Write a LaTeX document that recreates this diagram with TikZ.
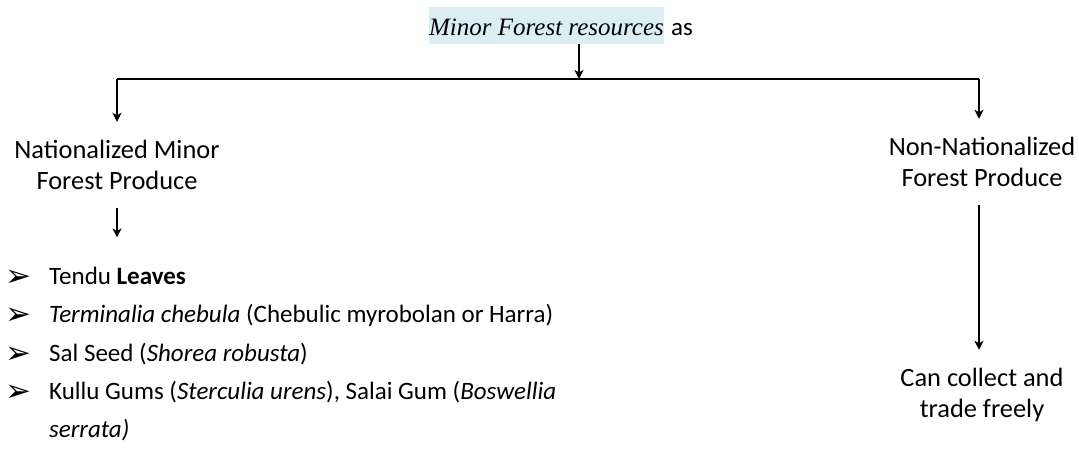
\documentclass[tikz,border=0pt]{standalone}
\usepackage{fontspec}
\setmainfont{Carlito}
\newfontfamily\titlefont{Liberation Serif}
\newfontfamily\symfont{DejaVu Sans}
\usetikzlibrary{arrows.meta}
\definecolor{hlblue}{RGB}{218,238,243}
\tikzset{
  lbl/.style={font=\fontsize{26.4}{31.5}\selectfont, align=center, inner xsep=0pt, inner ysep=18pt},
  item/.style={font=\fontsize{25}{38}\selectfont, align=left, inner sep=0pt, anchor=base west},
  bullet/.style={font=\symfont\fontsize{31}{31}\selectfont, inner sep=0pt, anchor=base west, yshift=-2pt},
  link/.style={line width=1.6pt},
  arr/.style={link, -{Stealth[length=9pt,width=9pt,inset=2.5pt]}}
}
\begin{document}
\begin{tikzpicture}[x=1pt,y=-1pt]
  \useasboundingbox (0,0) rectangle (1079,454);

  % heading with highlighted italic part
  \node[fill=hlblue, minimum width=235pt, inner sep=0pt, text height=29pt, text depth=8pt,
        font=\titlefont\itshape\fontsize{25}{30}\selectfont, anchor=base] (title) at (546.5,36)
        {Minor Forest resources};
  \node[font=\fontsize{25}{30}\selectfont, inner sep=0pt, anchor=base west] (as) at (671,36) {as};

  % branching line
  \coordinate (split) at (579,79);
  \coordinate (lc) at (117,79);
  \coordinate (rc) at (979,79);
  \draw[arr] (title.south -| split) -- (split);
  \draw[link] (lc) -- (rc);

  % left branch
  \node[lbl] (nat) at (117,165) {Nationalized Minor\\Forest Produce};
  \draw[arr] (lc) -- (nat.north);

  \node[bullet] (m1) at (5,285) {➢};
  \node[item] (b1) at (49,285) {Tendu \textbf{Leaves}};
  \node[bullet] (m2) at (5,323) {➢};
  \node[item] (b2) at (49,323) {\textit{Terminalia chebula} (Chebulic myrobolan or Harra)};
  \node[bullet] (m3) at (5,361) {➢};
  \node[item] (b3) at (49,361) {Sal Seed (\textit{Shorea robusta})};
  \node[bullet] (m4) at (5,399) {➢};
  \node[item] (b4) at (49,437) {Kullu Gums (\textit{Sterculia urens}), Salai Gum (\textit{Boswellia}\\\textit{serrata)}};

  \draw[arr, shorten >=30pt] (nat.south) -- (nat.south |- b1.north);

  % right branch
  \node[lbl] (nn) at (982,162) {Non-Nationalized\\Forest Produce};
  \draw[arr] (rc) -- (rc |- nn.north);
  \node[lbl] (can) at (982,395) {Can collect and\\trade freely};
  \draw[arr] (rc |- nn.south) -- (rc |- can.north);
\end{tikzpicture}
\end{document}
